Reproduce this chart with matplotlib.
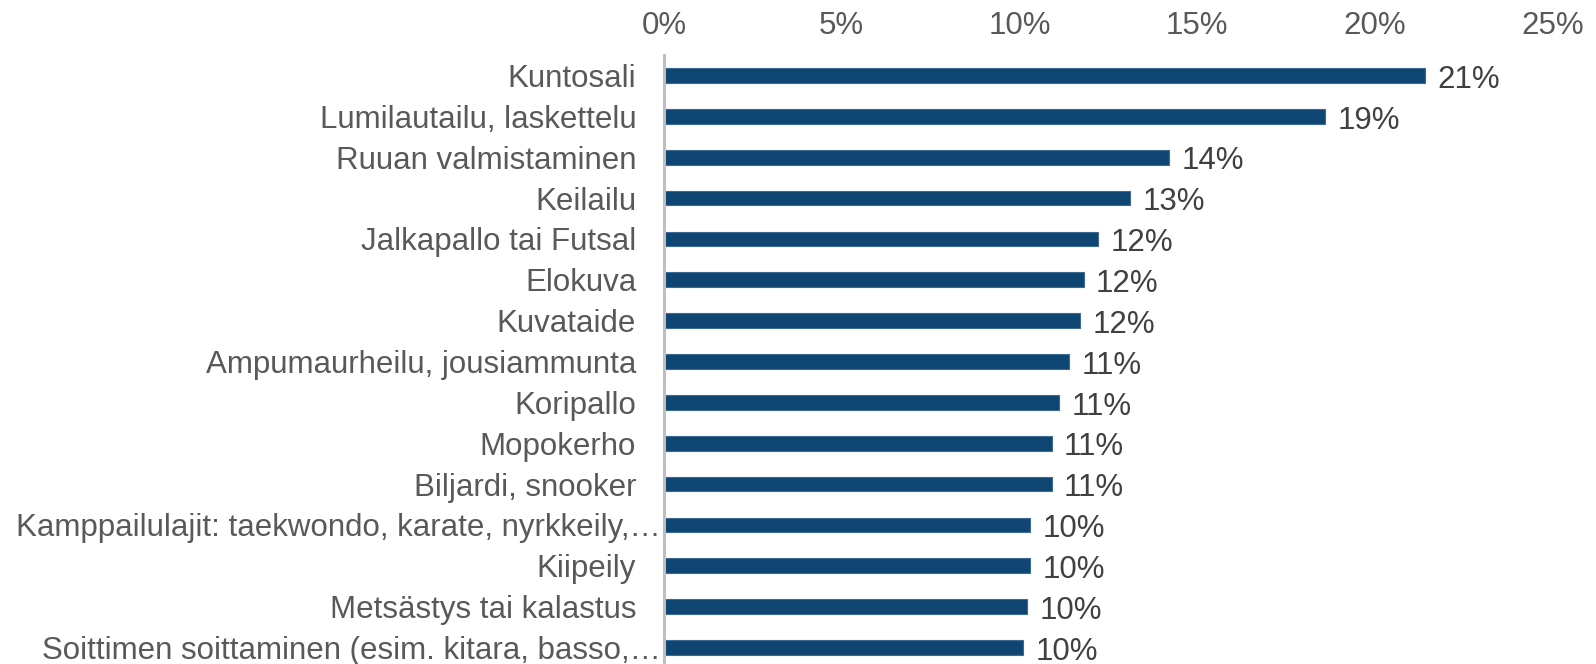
import matplotlib.pyplot as plt

plt.rcParams['font.family'] = ['Liberation Sans', 'DejaVu Sans']

# Harrastukset, osuus vastaajista (%)
activities = [
    'Kuntosali',
    'Lumilautailu, laskettelu',
    'Ruuan valmistaminen',
    'Keilailu',
    'Jalkapallo tai Futsal',
    'Elokuva',
    'Kuvataide',
    'Ampumaurheilu, jousiammunta',
    'Koripallo',
    'Mopokerho',
    'Biljardi, snooker',
    'Kamppailulajit: taekwondo, karate, nyrkkeily,…',
    'Kiipeily',
    'Metsästys tai kalastus',
    'Soittimen soittaminen (esim. kitara, basso,…',
]
shares = [21.4, 18.6, 14.2, 13.1, 12.2, 11.8, 11.7, 11.4, 11.1, 10.9, 10.9, 10.3, 10.3, 10.2, 10.1]
value_labels = ['21%', '19%', '14%', '13%', '12%', '12%', '12%', '11%', '11%', '11%', '11%',
                '10%', '10%', '10%', '10%']
x_ticks = [0, 5, 10, 15, 20, 25]

fig = plt.figure(figsize=(15.96, 6.64), dpi=100)
ax = fig.add_axes([0.416, -0.006, 0.557, 0.923])

ypos = list(range(len(activities)))
ax.barh(ypos, shares, height=0.36, color='#0E4572', edgecolor='#3C6A92', linewidth=0.8)

for y, v, lab in zip(ypos, shares, value_labels):
    ax.annotate(lab, (v, y), xytext=(9, -3), textcoords='offset points',
                va='center', ha='left', fontsize=22.5, color='#404040')

ax.set_xlim(0, 25)
ax.set_ylim(len(activities) - 0.5, -0.5)
ax.set_xticks(x_ticks)
ax.set_xticklabels([f'{t}%' for t in x_ticks])
ax.xaxis.tick_top()
ax.set_yticks(ypos)
ax.set_yticklabels(activities)

ax.tick_params(axis='x', length=0, labelsize=22.5, labelcolor='#595959', pad=10)
ax.tick_params(axis='y', length=0, labelsize=22.5, labelcolor='#595959', pad=20)

# pitkät katkaistut nimet ulottuvat akselille asti
ticks = ax.yaxis.get_major_ticks()
for i, name in enumerate(activities):
    if name.endswith('…'):
        ticks[i].set_pad(2)

for s in ['top', 'right', 'bottom']:
    ax.spines[s].set_visible(False)
ax.spines['left'].set_color('#BFBFBF')
ax.spines['left'].set_linewidth(2.2)

fig.savefig('out.png', dpi=100)
